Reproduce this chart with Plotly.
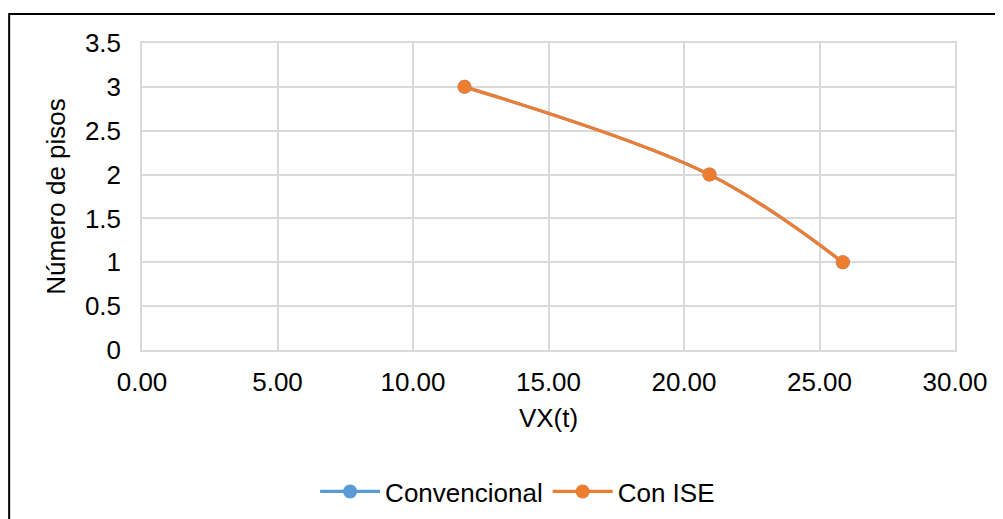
import plotly.graph_objects as go

vx_convencional = [11.90, 20.94, 25.86]
vx_con_ise = [11.90, 20.94, 25.86]
pisos = [3, 2, 1]
x_ticks = [0, 5, 10, 15, 20, 25, 30]
x_ticklabels = ["0.00", "5.00", "10.00", "15.00", "20.00", "25.00", "30.00"]
y_ticks = [0, 0.5, 1, 1.5, 2, 2.5, 3, 3.5]
y_ticklabels = ["0", "0.5", "1", "1.5", "2", "2.5", "3", "3.5"]

FONT = "Liberation Sans, Arial, sans-serif"
FS = 26
GRID = "#d9d9d9"

fig = go.Figure()
fig.add_trace(go.Scatter(
    x=vx_convencional, y=pisos, name="Convencional", mode="lines+markers",
    line=dict(color="#5B9BD5", width=3.2, shape="spline", smoothing=1),
    marker=dict(size=14, color="#5B9BD5"),
))
fig.add_trace(go.Scatter(
    x=vx_con_ise, y=pisos, name="Con ISE", mode="lines+markers",
    line=dict(color="#ED7D31", width=3.2, shape="spline", smoothing=1),
    marker=dict(size=14, color="#ED7D31"),
))

fig.update_layout(
    width=1003, height=519,
    margin=dict(l=134, r=56, t=35, b=177, autoexpand=False),
    paper_bgcolor="white", plot_bgcolor="white",
    font=dict(family=FONT, size=FS, color="black"),
    showlegend=True,
    legend=dict(orientation="h", x=0.462, xanchor="center", y=-0.461, yanchor="middle",
                font=dict(family=FONT, size=FS, color="black"), itemwidth=60,
                traceorder="normal", bgcolor="rgba(0,0,0,0)"),
    xaxis=dict(range=[0, 30], tickvals=x_ticks, ticktext=x_ticklabels,
               showgrid=True, gridcolor=GRID, gridwidth=1.5, zeroline=False,
               showline=True, linecolor=GRID, linewidth=1.5, mirror=True,
               ticks="", ticklabelstandoff=8,
               title=dict(text="VX(t)", font=dict(family=FONT, size=FS), standoff=13)),
    yaxis=dict(range=[0, 3.5], tickvals=y_ticks, ticktext=y_ticklabels,
               showgrid=True, gridcolor=GRID, gridwidth=1.5, zeroline=False,
               showline=True, linecolor=GRID, linewidth=1.5, mirror=True,
               ticks="", ticklabelstandoff=14,
               title=dict(text="Número de pisos", font=dict(family=FONT, size=FS), standoff=12)),
    shapes=[dict(type="rect", xref="paper", yref="paper",
                 x0=-0.1634, x1=1.5, y0=-1.0, y1=1.0945,
                 line=dict(color="black", width=2), fillcolor="rgba(0,0,0,0)", layer="above")],
)

fig.write_html("out.html")
